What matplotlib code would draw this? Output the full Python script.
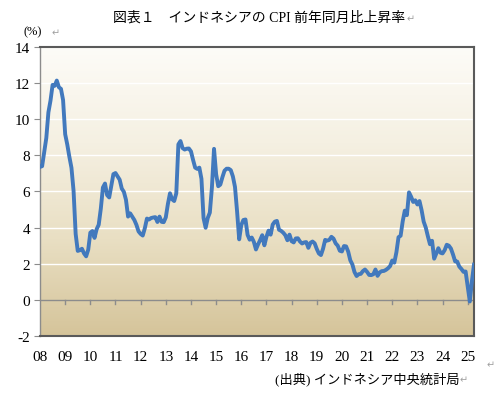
import numpy as np
import matplotlib
matplotlib.use("Agg")
import matplotlib.pyplot as plt
from matplotlib.colors import LinearSegmentedColormap

# monthly CPI yoy (%), Jan 2008 - Apr 2025
cpi = [
    7.36, 7.40, 8.17, 8.96, 10.38, 11.03, 11.90, 11.85, 12.14, 11.77, 11.68, 11.06,  # 2008
    9.17, 8.60, 7.92, 7.31, 6.04, 3.65, 2.71, 2.75, 2.83, 2.57, 2.41, 2.78,  # 2009
    3.72, 3.81, 3.43, 3.91, 4.16, 5.05, 6.22, 6.44, 5.80, 5.67, 6.33, 6.96,  # 2010
    7.02, 6.84, 6.65, 6.16, 5.98, 5.54, 4.61, 4.79, 4.61, 4.42, 4.15, 3.79,  # 2011
    3.65, 3.56, 3.97, 4.50, 4.45, 4.53, 4.56, 4.58, 4.31, 4.61, 4.32, 4.30,  # 2012
    4.57, 5.31, 5.90, 5.57, 5.47, 5.90, 8.61, 8.79, 8.40, 8.32, 8.37, 8.38,  # 2013
    8.22, 7.75, 7.32, 7.25, 7.32, 6.70, 4.53, 3.99, 4.53, 4.83, 6.23, 8.36,  # 2014
    6.96, 6.29, 6.38, 6.79, 7.15, 7.26, 7.26, 7.18, 6.83, 6.25, 4.89, 3.35,  # 2015
    4.14, 4.42, 4.45, 3.60, 3.33, 3.45, 3.21, 2.79, 3.07, 3.31, 3.58, 3.02,  # 2016
    3.49, 3.83, 3.61, 4.17, 4.33, 4.37, 3.88, 3.82, 3.72, 3.58, 3.30, 3.61,  # 2017
    3.25, 3.18, 3.40, 3.41, 3.23, 3.12, 3.18, 3.20, 2.88, 3.16, 3.23, 3.13,  # 2018
    2.82, 2.57, 2.48, 2.83, 3.32, 3.28, 3.32, 3.49, 3.39, 3.13, 3.00, 2.72,  # 2019
    2.68, 2.98, 2.96, 2.67, 2.19, 1.96, 1.54, 1.32, 1.42, 1.44, 1.59, 1.68,  # 2020
    1.55, 1.38, 1.37, 1.42, 1.68, 1.33, 1.52, 1.59, 1.60, 1.66, 1.75, 1.87,  # 2021
    2.18, 2.06, 2.64, 3.47, 3.55, 4.35, 4.94, 4.69, 5.95, 5.71, 5.42, 5.51,  # 2022
    5.28, 5.47, 4.97, 4.33, 4.00, 3.52, 3.08, 3.27, 2.28, 2.56, 2.86, 2.61,  # 2023
    2.57, 2.75, 3.05, 3.00, 2.84, 2.51, 2.13, 2.12, 1.84, 1.71, 1.55, 1.57,  # 2024
    0.76, -0.09, 1.03, 1.95,  # 2025
]
year_labels = ["08", "09", "10", "11", "12", "13", "14", "15", "16",
               "17", "18", "19", "20", "21", "22", "23", "24", "25"]
y_ticks = [-2, 0, 2, 4, 6, 8, 10, 12, 14]

title = "図表１　インドネシアの CPI 前年同月比上昇率"
source = "(出典) インドネシア中央統計局"

plt.rcParams["font.family"] = ["Liberation Serif", "Noto Sans CJK JP", "DejaVu Sans"]

fig = plt.figure(figsize=(4.94, 4.02), dpi=100)
ax = fig.add_axes([0.081, 0.1617, 0.8785, 0.719])

x = np.arange(len(cpi))
ax.set_xlim(0, len(cpi) - 1)
ax.set_ylim(-2, 14)

# background gradient
grad = LinearSegmentedColormap.from_list(
    "bg", ["#d5c49a", "#e9dfc3", "#f5f0e2", "#fdfcf8"])
ax.imshow(np.linspace(0, 1, 256).reshape(-1, 1), cmap=grad, aspect="auto",
          origin="lower", extent=[0, len(cpi) - 1, -2, 14], zorder=0)

for v in y_ticks[2:-1]:
    ax.axhline(v, color="white", lw=1.0, zorder=1)
ax.axhline(0, color="#8c8c8c", lw=1.0, zorder=2)
for i in range(12, len(cpi), 12):
    ax.plot([i, i], [0, -0.22], color="#8c8c8c", lw=1.0, zorder=2)

ax.plot(x, cpi, color="#4279bd", lw=2.8, solid_joinstyle="round", zorder=3)

ax.set_yticks(y_ticks)
ax.set_yticklabels([str(v) for v in y_ticks], fontsize=11)
ax.set_xticks(np.arange(0, len(cpi), 12))
ax.set_xticklabels(year_labels, fontsize=11)
ax.tick_params(axis="x", length=0, pad=10)
ax.tick_params(axis="y", length=4, color="#8c8c8c", pad=3)

for side in ["top", "right", "bottom"]:
    ax.spines[side].set_color("#5a5a5a")
    ax.spines[side].set_linewidth(1.5)
ax.spines["left"].set_color("#8c8c8c")
ax.spines["left"].set_linewidth(1.0)

gray = "#a0a0a0"
fig.text(0.524, 0.955, title, ha="center", va="center", fontsize=10)
fig.text(0.822, 0.953, "↵", ha="left", va="center", fontsize=7, color=gray,
         family=["DejaVu Sans"])
fig.text(0.048, 0.92, "(%)", ha="left", va="center", fontsize=9)
fig.text(0.105, 0.918, "↵", ha="left", va="center", fontsize=7, color=gray,
         family=["DejaVu Sans"])
fig.text(0.93, 0.055, source, ha="right", va="center", fontsize=9.5)
fig.text(0.93, 0.055, "↵", ha="left", va="center", fontsize=7, color=gray,
         family=["DejaVu Sans"])
fig.text(0.985, 0.092, "↵", ha="left", va="center", fontsize=7, color=gray,
         family=["DejaVu Sans"])

fig.savefig("out.png", dpi=100)
